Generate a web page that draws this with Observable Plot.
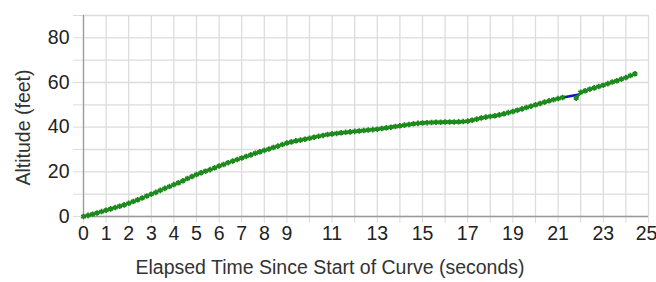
<!DOCTYPE html>
<html>
<head>
<meta charset="utf-8">
<script src="https://cdn.jsdelivr.net/npm/d3@7"></script>
<script src="https://cdn.jsdelivr.net/npm/@observablehq/plot@0.6"></script>
<style>
  html, body { margin: 0; padding: 0; background: #fff; }
  #chart { width: 656px; height: 282px; }
</style>
</head>
<body>
<div id="chart"></div>
<script>
// Elapsed time (seconds) and altitude (feet), first continuous segment
const timeA = [
  0.0, 0.2, 0.4, 0.6, 0.8, 1.0, 1.2, 1.4, 1.6, 1.8,
  2.0, 2.2, 2.4, 2.6, 2.8, 3.0, 3.2, 3.4, 3.6, 3.8,
  4.0, 4.2, 4.4, 4.6, 4.8, 5.0, 5.2, 5.4, 5.6, 5.8,
  6.0, 6.2, 6.4, 6.6, 6.8, 7.0, 7.2, 7.4, 7.6, 7.8,
  8.0, 8.2, 8.4, 8.6, 8.8, 9.0, 9.2, 9.4, 9.6, 9.8,
  10.0, 10.2, 10.4, 10.6, 10.8, 11.0, 11.2, 11.4, 11.6, 11.8,
  12.0, 12.2, 12.4, 12.6, 12.8, 13.0, 13.2, 13.4, 13.6, 13.8,
  14.0, 14.2, 14.4, 14.6, 14.8, 15.0, 15.2, 15.4, 15.6, 15.8,
  16.0, 16.2, 16.4, 16.6, 16.8, 17.0, 17.2, 17.4, 17.6, 17.8,
  18.0, 18.2, 18.4, 18.6, 18.8, 19.0, 19.2, 19.4, 19.6, 19.8,
  20.0, 20.2, 20.4, 20.6, 20.8, 21.0, 21.2
];
const altA = [
  0.0, 0.5, 1.0, 1.6, 2.2, 2.8, 3.4, 4.0, 4.6, 5.2,
  5.9, 6.7, 7.5, 8.3, 9.2, 10.0, 10.8, 11.7, 12.6, 13.4,
  14.3, 15.1, 16.0, 17.0, 17.9, 18.8, 19.6, 20.3, 21.0, 21.8,
  22.6, 23.3, 24.1, 24.8, 25.5, 26.2, 26.9, 27.6, 28.3, 29.0,
  29.6, 30.2, 30.9, 31.5, 32.2, 32.9, 33.4, 33.9, 34.2, 34.6,
  35.0, 35.5, 35.9, 36.3, 36.7, 37.0, 37.2, 37.5, 37.7, 37.9,
  38.1, 38.3, 38.5, 38.7, 38.9, 39.1, 39.4, 39.7, 40.0, 40.3,
  40.6, 40.9, 41.2, 41.5, 41.7, 41.9, 42.0, 42.1, 42.2, 42.2,
  42.3, 42.3, 42.3, 42.4, 42.5, 42.7, 43.1, 43.6, 44.1, 44.5,
  44.8, 45.1, 45.5, 46.0, 46.5, 47.0, 47.6, 48.2, 48.8, 49.4,
  50.0, 50.6, 51.2, 51.8, 52.3, 52.8, 53.3
];
// second segment after the gap
const timeB = [21.8, 22.0, 22.2, 22.4, 22.6, 22.8, 23.0, 23.2, 23.4, 23.6, 23.8, 24.0, 24.2, 24.4];
const altB  = [53.0, 55.6, 56.3, 57.0, 57.6, 58.2, 58.8, 59.5, 60.2, 60.8, 61.5, 62.2, 63.1, 63.9];
// bridging segment across the gap (blue)
const timeGap = [21.2, 21.93];
const altGap  = [53.3, 54.6];

// axis ticks
const xTicks = d3.range(0, 26);
const xLabelled = [0, 1, 2, 3, 4, 5, 6, 7, 8, 9, 11, 13, 15, 17, 19, 21, 23];
const xLastLabel = [25];
const yTicks = d3.range(0, 91, 10);
const yLabelled = [0, 20, 40, 60, 80];

const xTitle = "Elapsed Time Since Start of Curve (seconds)";
const yTitle = "Altitude (feet)";

const segA = timeA.map((t, i) => ({t, a: altA[i]}));
const segB = timeB.map((t, i) => ({t, a: altB[i]}));
const gap = timeGap.map((t, i) => ({t, a: altGap[i]}));

const green = "#1e8a1e";
const grid = "#dcdcdc";
const font = "'Liberation Sans', Arial, sans-serif";

const chart = Plot.plot({
  width: 656,
  height: 282,
  marginLeft: 83,
  marginRight: 8,
  marginTop: 15,
  marginBottom: 66,
  style: {fontFamily: font, fontSize: "19.5px", color: "#222", background: "#fff", overflow: "visible"},
  x: {domain: [0, 25]},
  y: {domain: [0, 90]},
  marks: [
    Plot.gridX(xTicks, {stroke: grid, strokeOpacity: 1, strokeWidth: 1.3}),
    Plot.gridY(yTicks, {stroke: grid, strokeOpacity: 1, strokeWidth: 1.3}),
    Plot.axisX(xTicks, {tickSize: 7, stroke: grid, strokeOpacity: 1, tickPadding: 3, label: null,
      tickFormat: d => xLabelled.includes(d) ? String(d) : "", fill: "#222"}),
    Plot.axisX(xLastLabel, {tickSize: 7, stroke: grid, strokeOpacity: 0, tickPadding: 3, label: null,
      dx: -2, fill: "#222"}),
    Plot.axisY(yTicks, {tickSize: 10, stroke: grid, strokeOpacity: 1, tickPadding: 4, label: null,
      tickFormat: d => yLabelled.includes(d) ? String(d) : "", fill: "#222"}),
    Plot.ruleX([0], {stroke: "#9a9a9a", strokeWidth: 1.3}),
    Plot.ruleY([0], {stroke: "#9a9a9a", strokeWidth: 1.3}),
    Plot.line(gap, {x: "t", y: "a", stroke: "#1010d0", strokeWidth: 2.5}),
    Plot.line(segA, {x: "t", y: "a", stroke: green, strokeWidth: 2.5}),
    Plot.line(segB, {x: "t", y: "a", stroke: green, strokeWidth: 2.5}),
    Plot.dot(segA, {x: "t", y: "a", symbol: "asterisk", r: 2.6, stroke: green, strokeWidth: 1.8}),
    Plot.dot(segB, {x: "t", y: "a", symbol: "asterisk", r: 2.6, stroke: green, strokeWidth: 1.8})
  ]
});

// axis titles
const svg = d3.select(chart);
svg.append("text")
  .attr("x", 330).attr("y", 274)
  .attr("text-anchor", "middle")
  .attr("font-family", font).attr("font-size", 19.5).attr("fill", "#333")
  .text(xTitle);
svg.append("text")
  .attr("transform", "translate(29.5,127.5) rotate(-90)")
  .attr("text-anchor", "middle")
  .attr("font-family", font).attr("font-size", 19.5).attr("fill", "#333")
  .text(yTitle);

document.getElementById("chart").appendChild(chart);
</script>
</body>
</html>
